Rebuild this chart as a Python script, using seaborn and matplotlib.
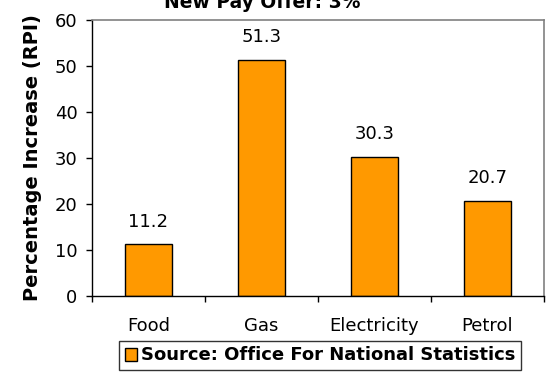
import matplotlib
matplotlib.use("Agg")
import matplotlib.pyplot as plt
import seaborn as sns
import pandas as pd

categories = ['Food', 'Gas', 'Electricity', 'Petrol']
increase = [11.2, 51.3, 30.3, 20.7]
title = 'New Pay Offer: 3%'
source = 'Source: Office For National Statistics'

df = pd.DataFrame({'item': categories, 'rpi': increase})

sns.set_style('white')
plt.rcParams['font.family'] = ['DejaVu Sans']
plt.rcParams['text.color'] = 'black'
plt.rcParams['axes.labelcolor'] = 'black'
plt.rcParams['xtick.color'] = 'black'
plt.rcParams['ytick.color'] = 'black'

fig = plt.figure(figsize=(5.47, 3.72), dpi=100)
ax = fig.add_axes([92 / 547, 1 - 296 / 372, 452 / 547, 276 / 372])

sns.barplot(data=df, x='item', y='rpi', color='#FF9900', saturation=1,
            edgecolor='black', linewidth=1, width=0.41, label=source, ax=ax)

for i, v in enumerate(increase):
    ax.annotate(f'{v}', (i, v), xytext=(0, 10), textcoords='offset points',
                ha='center', va='bottom', fontsize=13)

ax.set_ylim(0, 60)
ax.set_xlim(-0.5, 3.5)
ax.set_yticks(range(0, 61, 10))
ax.tick_params(axis='y', length=4.5, width=1, direction='out', pad=6,
               labelsize=13, left=True)
ax.set_xticks([-0.5, 0.5, 1.5, 2.5, 3.5], minor=True)
ax.tick_params(axis='x', which='minor', length=4, width=1, direction='out',
               bottom=True)
ax.tick_params(axis='x', which='major', length=0, pad=15, labelsize=13)
ax.set_xlabel('')
ax.set_ylabel('Percentage Increase (RPI)', fontsize=14, fontweight='bold',
              labelpad=9)

for side in ['top', 'right']:
    ax.spines[side].set_color('#808080')
    ax.spines[side].set_linewidth(1.2)
for side in ['left', 'bottom']:
    ax.spines[side].set_color('black')
    ax.spines[side].set_linewidth(1)

fig.text(262 / 547, 1 - 8 / 372, title, ha='center', va='baseline',
         fontsize=13.5, fontweight='bold')

leg = ax.legend(loc='center', bbox_to_anchor=(320 / 547, 1 - 355.5 / 372),
                bbox_transform=fig.transFigure, frameon=True, fancybox=False,
                edgecolor='black', handlelength=0.7, handleheight=0.7,
                handletextpad=0.2, borderpad=0.3, borderaxespad=0,
                prop={'weight': 'bold', 'size': 13})
leg.get_frame().set_linewidth(1)

fig.savefig('out.png', dpi=100)
